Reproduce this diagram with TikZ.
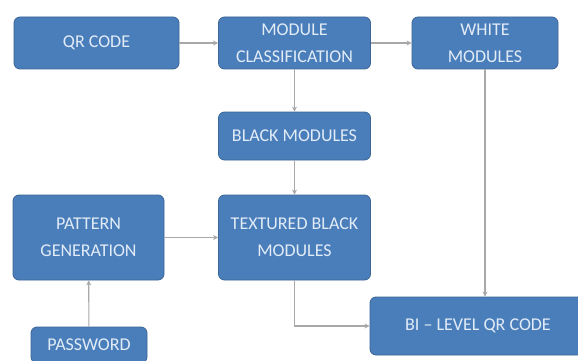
\documentclass[tikz,border=0pt]{standalone}
\usepackage{fontspec}
\setmainfont{Carlito}
\usetikzlibrary{arrows.meta}
\definecolor{boxfill}{HTML}{4A7EBB}
\definecolor{boxline}{HTML}{3A6596}
\definecolor{boxtext}{HTML}{E2ECF7}
\definecolor{conn}{HTML}{A8A8A8}
\begin{document}
\begin{tikzpicture}[x=1pt,y=-1pt,
  blk/.style={draw=boxline, line width=0.8pt, fill=boxfill, rounded corners=6pt,
    text=boxtext, align=center, inner sep=0pt,
    font=\fontsize{18}{27}\selectfont},
  conn/.style={draw=conn, line width=1.1pt, -{Stealth[length=5pt,width=5pt]}}]
\clip (0,0) rectangle (578,361);
\fill[white] (0,0) rectangle (578,361);
\node[blk, minimum width=165pt, minimum height=52pt] (qr) at (96.5,43) {QR CODE};
\node[blk, minimum width=152pt, minimum height=52pt] (mc) at (294.5,43) {MODULE\\CLASSIFICATION};
\node[blk, minimum width=146pt, minimum height=52pt] (wm) at (485,43) {WHITE\\MODULES};
\node[blk, minimum width=152pt, minimum height=48pt] (bm) at (294.5,136) {BLACK MODULES};
\node[blk, minimum width=151pt, minimum height=85pt] (pg) at (88.5,237.5) {PATTERN\\GENERATION};
\node[blk, minimum width=152pt, minimum height=85pt] (tbm) at (294.5,237.5) {TEXTURED BLACK\\MODULES};
\node[blk, minimum width=216pt, minimum height=58pt] (bl) at (478,326) {BI -- LEVEL QR CODE};
\node[blk, minimum width=116pt, minimum height=36pt] (pw) at (89,345) {PASSWORD};
\draw[conn] (qr) -- (mc);
\draw[conn] (mc) -- (wm);
\draw[conn] (mc) -- (bm);
\draw[conn] (bm) -- (tbm);
\draw[conn] (pg) -- (tbm);
\draw[conn] (pw) -- (pg);
\draw[conn] (tbm.south) |- (bl.west);
\draw[conn] (wm.south) -- (wm.south |- bl.north);
\end{tikzpicture}
\end{document}
